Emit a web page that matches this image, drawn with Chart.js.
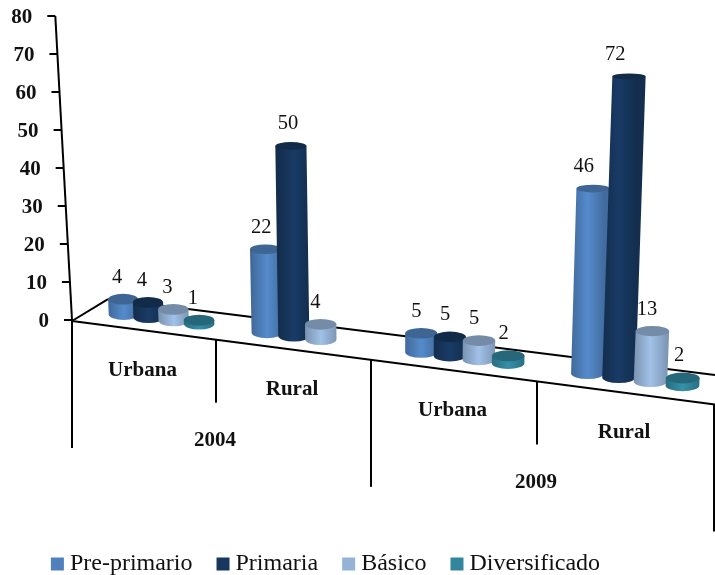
<!DOCTYPE html>
<html><head><meta charset="utf-8">
<style>html,body{margin:0;padding:0;background:#fff}canvas{display:block}</style>
<script src="https://cdn.jsdelivr.net/npm/chart.js@4/dist/chart.umd.min.js"></script>
</head><body><canvas id="c" width="715" height="575"></canvas>
<script>
const categories = ['Urbana','Rural','Urbana','Rural'];
const years = ['2004','2009'];
const seriesNames = ['Pre-primario','Primaria','Básico','Diversificado'];
const prePrimario = [4,22,5,46];
const primaria = [4,50,5,72];
const basico = [3,4,5,13];
const diversificado = [1,null,2,2];
const colors = ['#4F81BD','#17375E','#95B3D7','#31859C'];
const yTicks = {min:0,max:80,step:10};

const SERIF = '"Liberation Serif"';
// oblique view of the chart's plane
const warp = px => { const u = px - 72; return 72 + .8615*u + 2.13e-4*u*u; };
const front = x => 321 + .13*(x-72);
const back = x => 294.6 + .125*(x-72);
const floorMid = x => (front(x)+back(x))/2;
const AXIS_LEAN = .00017, BAR_LEAN = .00015, VX = 395;
const depthShift = x => Math.max(10.5, 20 - .022*(x-72));
const shade = (hex,f) => {
  const n = parseInt(hex.slice(1),16);
  const c = s => Math.min(255,Math.round(((n>>s)&255)*f));
  return `rgb(${c(16)},${c(8)},${c(0)})`;
};
function line(ctx,x1,y1,x2,y2){ctx.beginPath();ctx.moveTo(x1,y1);ctx.lineTo(x2,y2);ctx.stroke();}

function drawCylinder(ctx,el,color,value){
  const x0 = warp(el.x);
  const xb = x0+depthShift(x0), yb = floorMid(xb);
  const h0 = el.base-el.y;
  const h = h0*(1+.000212*(xb-290)*h0/190);
  const xt = xb + h*BAR_LEAN*(xb-VX), yt = yb-h;
  const rx = el.width*(.94+.00021*(xb-72))/2, ryB = 5.5, ryT = Math.max(3,5.5-.0085*h);
  const g = ctx.createLinearGradient(xb-rx,0,xb+rx,0);
  g.addColorStop(0,shade(color,.82));
  g.addColorStop(.5,shade(color,1.08));
  g.addColorStop(1,shade(color,.84));
  ctx.fillStyle = g;
  ctx.beginPath();
  ctx.moveTo(xt-rx,yt);
  ctx.lineTo(xb-rx,yb);
  ctx.ellipse(xb,yb,rx,ryB,0,Math.PI,0,true);
  ctx.lineTo(xt+rx,yt);
  ctx.closePath();
  ctx.fill();
  ctx.fillStyle = shade(color,.78);
  ctx.beginPath();ctx.ellipse(xt,yt,rx,ryT,0,0,Math.PI*2);ctx.fill();
  ctx.fillStyle = '#111';
  ctx.font = '20.5px '+SERIF;
  ctx.textAlign='center';ctx.textBaseline='middle';
  ctx.fillText(String(value),xb-7+.006*(xb-72),yt-22);
}

const view = {
  id:'view',
  afterLayout(chart){
    const l = chart.legend;
    l.left = 0; l.right = 657; l.top = 522; l.bottom = 575;
  },
  beforeDatasetsDraw(chart){
    const ctx = chart.ctx, ys = chart.scales.y, xs = chart.scales.x, area = chart.chartArea;
    ctx.save();
    ctx.strokeStyle='#000';ctx.lineWidth=2;
    // floor
    line(ctx,area.left,front(area.left),area.right,front(area.right));
    line(ctx,108,back(108),area.right,back(area.right));
    line(ctx,area.left,front(area.left),108,back(108));
    // value axis
    const axisX = py => area.left - (ys.bottom-py)*AXIS_LEAN*(VX-area.left);
    line(ctx,axisX(ys.top),ys.top,axisX(ys.bottom),ys.bottom);
    ctx.fillStyle='#111';ctx.font='bold 21px '+SERIF;
    ctx.textAlign='right';ctx.textBaseline='middle';
    ys.ticks.forEach((t,i)=>{
      const py = ys.getPixelForTick(i), ax = axisX(py);
      line(ctx,ax-8,py,ax,py);
      ctx.fillText(String(t.value),ax-23,py+2);
    });
    // category axis: separators and two-level labels
    const n = categories.length, step = (area.right-area.left)/n;
    for(let i=0;i<=n;i++){
      const x = warp(area.left+step*i);
      line(ctx,x,front(x),x,front(x)+(i%2?63:127));
    }
    ctx.textAlign='center';
    categories.forEach((c,i)=>{
      const x = (warp(xs.getPixelForValue(i)-step/2)+warp(xs.getPixelForValue(i)+step/2))/2;
      ctx.fillText(c,x-1.5,front(x)+40);
    });
    years.forEach((y,i)=>{
      const x = warp((xs.getPixelForValue(i*2)+xs.getPixelForValue(i*2+1))/2);
      ctx.fillText(y,x-1,front(x)+101);
    });
    chart.data.datasets.forEach((ds,d)=>{
      chart.getDatasetMeta(d).data.forEach((el,i)=>{
        if(ds.data[i]!=null) drawCylinder(ctx,el,colors[d],ds.data[i]);
      });
    });
    ctx.restore();
    return false;
  }
};

const seriesValues = [prePrimario,primaria,basico,diversificado];
new Chart(document.getElementById('c'),{
  type:'bar',
  data:{labels:categories,datasets:seriesNames.map((name,i)=>({
    label:name,data:seriesValues[i],backgroundColor:colors[i],borderColor:colors[i],borderWidth:12
  }))},
  options:{
    responsive:false,animation:false,
    devicePixelRatio:1,
    layout:{padding:{left:72,right:0,top:16,bottom:191}},
    categoryPercentage:.714,barPercentage:1.1,
    scales:{
      x:{display:false,type:'category'},
      y:{display:false,min:yTicks.min,max:yTicks.max,ticks:{stepSize:yTicks.step}}
    },
    plugins:{
      tooltip:{enabled:false},
      legend:{position:'bottom',labels:{
        boxWidth:1,boxHeight:1,padding:30,color:'#111',
        font:{family:SERIF,size:24}
      }}
    }
  },
  plugins:[view]
});
</script></body></html>
